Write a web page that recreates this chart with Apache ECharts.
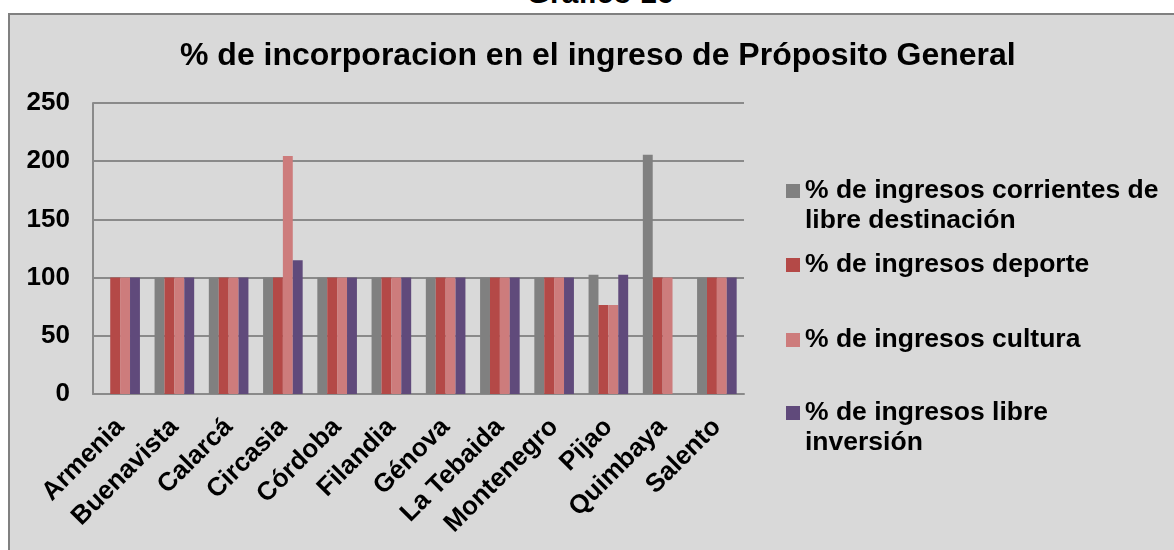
<!DOCTYPE html>
<html>
<head>
<meta charset="utf-8">
<script src="https://cdn.jsdelivr.net/npm/echarts@6/dist/echarts.min.js"></script>
<style>
  html, body { margin: 0; padding: 0; background: #ffffff; overflow: hidden; }
  .box {
    position: absolute; left: 8px; top: 13px; width: 1180px; height: 560px;
    background: #d9d9d9; border: 2px solid #808080;
  }
  .caption {
    position: absolute; left: 0; width: 1200px; top: -22px; text-align: center;
    font: bold 30px/30px "Liberation Sans", Arial, sans-serif; color: #000;
  }
  #chart { position: absolute; left: 0; top: 0; width: 1174px; height: 550px; }
</style>
</head>
<body>
<div class="box"></div>
<div class="caption">Gráfico 16</div>
<div id="chart"></div>
<script>
// municipios
const categories = ["Armenia", "Buenavista", "Calarcá", "Circasia", "Córdoba", "Filandia",
  "Génova", "La Tebaida", "Montenegro", "Pijao", "Quimbaya", "Salento"];

const seriesNames = [
  "% de ingresos corrientes de libre destinación",
  "% de ingresos deporte",
  "% de ingresos cultura",
  "% de ingresos libre inversión"
];
// how the legend breaks the long names
// (blank first line keeps the marker level with the first text line)
const legendLabels = [
  "\u00a0\n% de ingresos corrientes de\nlibre destinación",
  "% de ingresos deporte",
  "% de ingresos cultura",
  "\u00a0\n% de ingresos libre\ninversión"
];

const corrientes = [0, 100, 100, 100, 100, 100, 100, 100, 100, 102.5, 205.5, 100];
const deporte    = [100, 100, 100, 100, 100, 100, 100, 100, 100, 76.5, 100, 100];
const cultura    = [100, 100, 100, 204.5, 100, 100, 100, 100, 100, 76.5, 100, 100];
const inversion  = [100, 100, 100, 115, 100, 100, 100, 100, 100, 102.5, 0, 100];

const yTicks = [0, 50, 100, 150, 200, 250];

const colors = ["#808080", "#b44947", "#cd7c7c", "#604a7b"];
const font = '"Liberation Sans", Arial, sans-serif';

const chart = echarts.init(document.getElementById("chart"));

// one legend box per entry so the gaps match the original
const legendTops = [146, 250, 325, 368];
const legends = seriesNames.map((name, i) => ({
  data: [name],
  left: 786,
  top: legendTops[i],
  padding: 0,
  itemWidth: 14,
  itemHeight: 14,
  itemGap: 5,
  icon: "rect",
  formatter: () => legendLabels[i],
  textStyle: {
    fontFamily: font, fontWeight: "bold", fontSize: 26.5, color: "#000",
    lineHeight: 30
  }
}));

const allData = [corrientes, deporte, cultura, inversion];

chart.setOption({
  animation: false,
  title: {
    text: "% de incorporacion en el ingreso de Próposito General",
    left: 180,
    top: 40,
    padding: 0,
    textStyle: { fontFamily: font, fontWeight: "bold", fontSize: 32, color: "#000" }
  },
  legend: legends,
  grid: { left: 93, top: 103, width: 651, height: 291, containLabel: false },
  xAxis: {
    type: "category",
    data: categories,
    axisLine: { lineStyle: { color: "#8a8a8a", width: 2 } },
    axisTick: { show: false },
    axisLabel: {
      interval: 0, rotate: 45, margin: 29,
      fontFamily: font, fontWeight: "bold", fontSize: 26, color: "#000"
    }
  },
  yAxis: {
    type: "value",
    min: yTicks[0],
    max: yTicks[yTicks.length - 1],
    interval: 50,
    axisLine: { show: true, lineStyle: { color: "#8a8a8a", width: 2 } },
    axisTick: { show: false },
    splitLine: { lineStyle: { color: "#8a8a8a", width: 2 } },
    axisLabel: { margin: 23, fontFamily: font, fontWeight: "bold", fontSize: 26, color: "#000" }
  },
  series: seriesNames.map((name, i) => ({
    name: name,
    type: "bar",
    data: allData[i],
    barGap: "0%",
    barCategoryGap: "27%",
    itemStyle: { color: colors[i] }
  }))
});
</script>
</body>
</html>
